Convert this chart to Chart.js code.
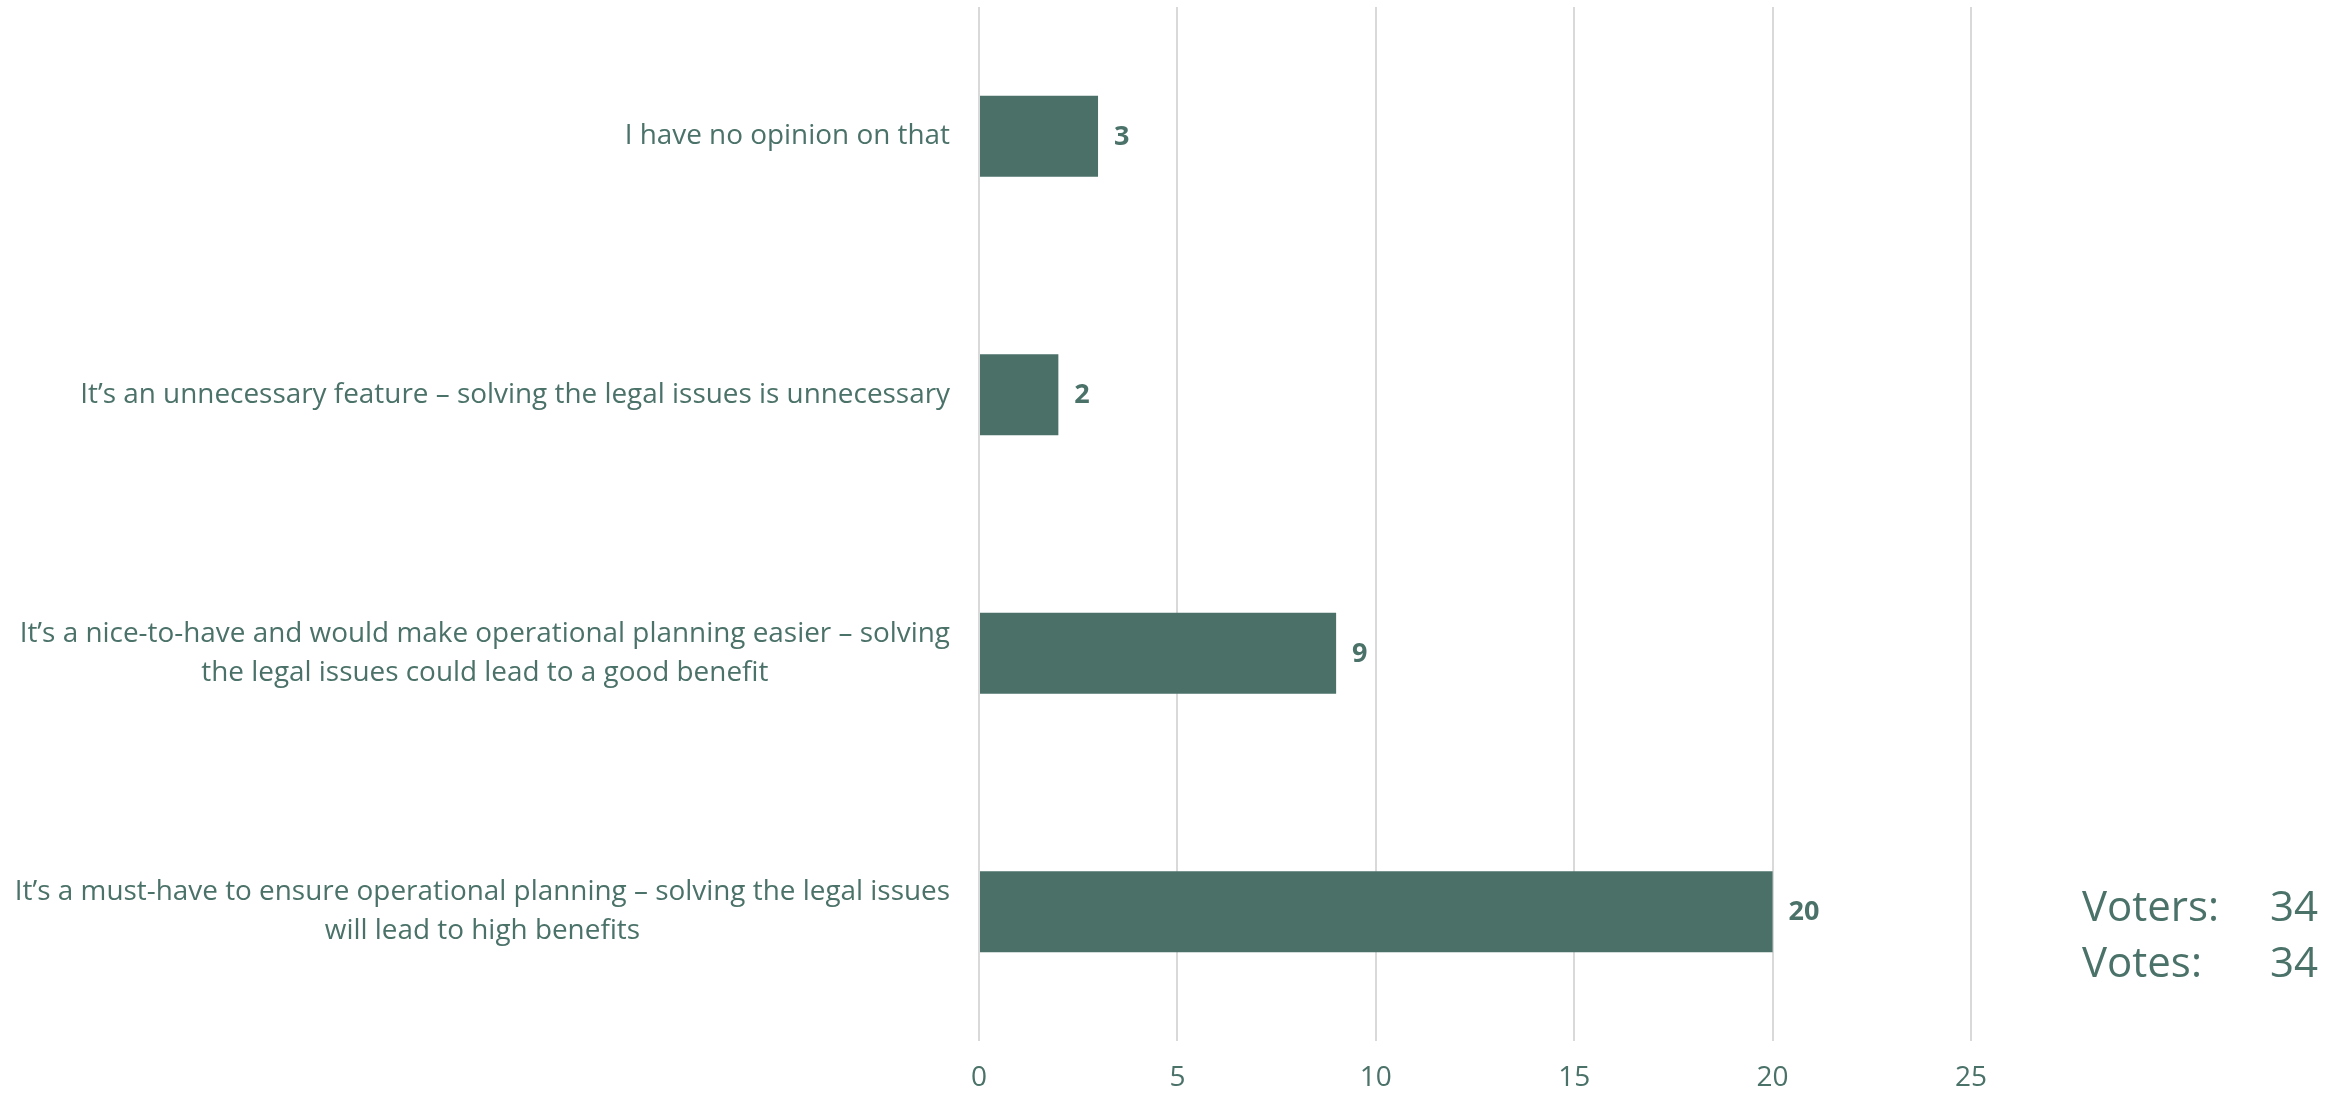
<!DOCTYPE html>
<html>
<head>
<meta charset="utf-8">
<script src="https://cdn.jsdelivr.net/npm/chart.js@4"></script>
<style>
  html, body { margin: 0; padding: 0; background: #fff; }
  #wrap { width: 2351px; height: 1094px; }
</style>
</head>
<body>
<div id="wrap"><canvas id="myChart" width="2351" height="1094"></canvas></div>
<script>
// answers, top to bottom as shown
const answers = [
  ["I have no opinion on that"],
  ["It\u2019s an unnecessary feature \u2013 solving the legal issues is unnecessary"],
  ["It\u2019s a nice-to-have and would make operational planning easier \u2013 solving",
   "the legal issues could lead to a good benefit"],
  ["It\u2019s a must-have to ensure operational planning \u2013 solving the legal issues",
   "will lead to high benefits"]
];
const votes = [3, 2, 9, 20];
const xTicks = [0, 5, 10, 15, 20, 25];
const summaryLabels = ["Voters:", "Votes:"];
const summaryValues = [34, 34];

const green = "#4A7068";
const textColor = "#4B7269";
const font = "'Open Sans'";

const labelsPlugin = {
  id: 'labelsPlugin',
  afterDraw(chart) {
    const ctx = chart.ctx;
    const y = chart.scales.y;
    const area = chart.chartArea;
    ctx.save();
    ctx.fillStyle = textColor;

    // category labels: block right-aligned, lines centered inside block
    ctx.font = "27.9px " + font;
    ctx.textBaseline = "middle";
    ctx.textAlign = "center";
    const right = area.left - 29;
    const lh = 39;
    answers.forEach((lines, i) => {
      const cy = y.getPixelForValue(i);
      const w = Math.max(...lines.map(l => ctx.measureText(l).width));
      const cx = right - w / 2;
      const top = cy - (lines.length - 1) * lh / 2;
      lines.forEach((l, j) => ctx.fillText(l, cx, top + j * lh));
    });

    // value labels
    ctx.font = "bold 27px " + font;
    ctx.textAlign = "left";
    const meta = chart.getDatasetMeta(0);
    meta.data.forEach((bar, i) => {
      ctx.fillText(String(votes[i]), bar.x + 16, bar.y + 1);
    });

    // summary box
    ctx.font = "42px " + font;
    ctx.textBaseline = "alphabetic";
    summaryLabels.forEach((t, i) => {
      const by = 921 + i * 56;
      ctx.textAlign = "left";
      ctx.fillText(t, 2082, by);
      ctx.textAlign = "right";
      ctx.fillText(String(summaryValues[i]), 2318, by);
    });
    ctx.restore();
  }
};

new Chart(document.getElementById("myChart"), {
  type: 'bar',
  data: {
    labels: answers,
    datasets: [{
      data: votes,
      backgroundColor: green,
      borderWidth: 0,
      categoryPercentage: 1,
      barPercentage: 0.314
    }]
  },
  options: {
    indexAxis: 'y',
    responsive: false,
    animation: false,
    layout: { padding: { left: 979, right: 380, top: 7, bottom: 1 } },
    plugins: {
      legend: { display: false },
      tooltip: { enabled: false }
    },
    scales: {
      x: {
        min: 0,
        max: 25,
        afterBuildTicks(axis) { axis.ticks = xTicks.map(v => ({ value: v })); },
        afterFit(axis) { axis.height = 52; },
        grid: { color: "#D9D9D9", lineWidth: 2, drawTicks: false },
        border: { display: false },
        ticks: {
          color: textColor,
          font: { family: "Open Sans", size: 28 },
          padding: 20
        }
      },
      y: {
        display: false
      }
    }
  },
  plugins: [labelsPlugin]
});
</script>
</body>
</html>
